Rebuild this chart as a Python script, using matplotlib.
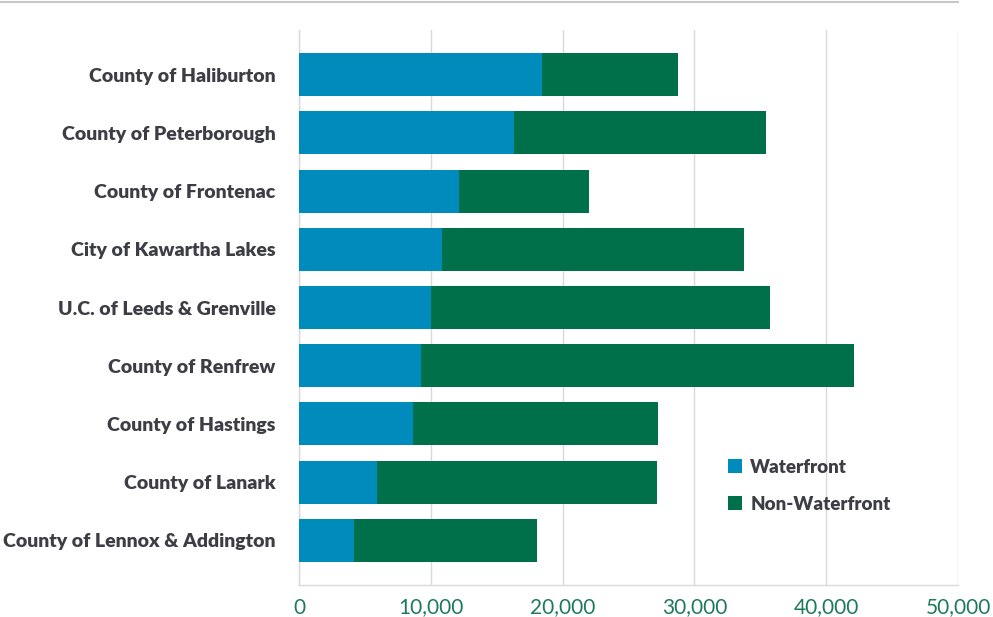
import matplotlib
matplotlib.use("Agg")
import matplotlib.pyplot as plt
from matplotlib.lines import Line2D

categories = ["County of Haliburton", "County of Peterborough", "County of Frontenac",
              "City of Kawartha Lakes", "U.C. of Leeds & Grenville", "County of Renfrew",
              "County of Hastings", "County of Lanark", "County of Lennox & Addington"]
waterfront = [18400, 16350, 12150, 10830, 10020, 9260, 8670, 5920, 4180]
non_waterfront = [10350, 19050, 9820, 22910, 25690, 32840, 18570, 21230, 13870]
xticks = [0, 10000, 20000, 30000, 40000, 50000]
xtick_labels = ["0", "10,000", "20,000", "30,000", "40,000", "50,000"]

blue = "#008bbd"
green = "#00704a"
grid_c = "#d9d9d9"
text_c = "#3d3d45"
tick_c = "#1f7a5c"

fig = plt.figure(figsize=(9.93, 6.17), dpi=100)
ax = fig.add_axes([299/993, (617-585)/617, (958-299)/993, (585-30)/617])

y = list(range(len(categories)))
ax.barh(y, waterfront, height=0.74, color=blue, label="Waterfront", zorder=3)
ax.barh(y, non_waterfront, left=waterfront, height=0.74, color=green, label="Non-Waterfront", zorder=3)

ax.set_ylim(len(categories) - 1 + 0.77, -0.77)
ax.set_xlim(0, 50000)
ax.set_xticks(xticks)
ax.set_xticklabels(xtick_labels, fontsize=15, color=tick_c, fontfamily="Lato")
ax.set_yticks(y)
ax.set_yticklabels(categories, fontsize=14, color=text_c, fontweight="heavy", fontfamily="Lato")
ax.tick_params(axis="both", length=0)
ax.tick_params(axis="x", pad=9)
ax.tick_params(axis="y", pad=17)
ax.grid(axis="x", color=grid_c, linewidth=1, zorder=0)
for s in ["top", "right"]:
    ax.spines[s].set_visible(False)
for s in ["left", "bottom"]:
    ax.spines[s].set_color(grid_c)
    ax.spines[s].set_linewidth(1)

leg = ax.legend(loc="upper left", bbox_to_anchor=((711-299)/(958-299), (585-442)/(585-30)),
                frameon=False, handlelength=0.75, handleheight=0.75, handletextpad=0.45,
                labelspacing=1.05, prop={"family": "Lato", "weight": "heavy", "size": 13.5})
for t in leg.get_texts():
    t.set_color(text_c)

fig.add_artist(Line2D([0, 958/993], [1 - 2/617, 1 - 2/617], color="#c8c8c8", linewidth=1.5))

fig.savefig("out.png", dpi=100)
